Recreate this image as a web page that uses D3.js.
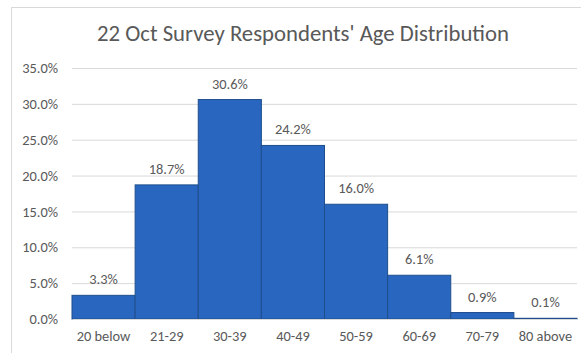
<!DOCTYPE html>
<html>
<head>
<meta charset="utf-8">
<script src="https://cdn.jsdelivr.net/npm/d3@7"></script>
<style>
  html, body { margin: 0; padding: 0; background: #fff; }
  svg { display: block; }
  text { font-family: Carlito, "Open Sans", "Noto Sans", sans-serif; fill: #595959; }
</style>
</head>
<body>
<svg id="chart" width="581" height="353"></svg>
<script>
// Age groups and share of respondents (percent)
const categories = ["20 below", "21-29", "30-39", "40-49", "50-59", "60-69", "70-79", "80 above"];
const shares = [3.3, 18.7, 30.6, 24.2, 16.0, 6.1, 0.9, 0.1];
const yTicks = [0, 5, 10, 15, 20, 25, 30, 35];
const titleText = "22 Oct Survey Respondents' Age Distribution";

const svg = d3.select("#chart");
const plot = { left: 72, right: 577, top: 68, bottom: 319 };
const labelSize = "14.4px";

// outer chart frame
svg.append("rect")
  .attr("x", 11.5).attr("y", 7.5)
  .attr("width", 620).attr("height", 400)
  .attr("fill", "#fff").attr("stroke", "#d9d9d9").attr("stroke-width", 1);

const x = d3.scaleBand().domain(categories).range([plot.left, plot.right]).padding(0);
const y = d3.scaleLinear().domain([0, 35]).range([plot.bottom, plot.top]);

// gridlines + y tick labels
const yAxis = d3.axisLeft(y).tickValues(yTicks).tickSize(-(plot.right - plot.left))
  .tickFormat(d => d.toFixed(1) + "%").tickPadding(14);
const gy = svg.append("g").attr("transform", `translate(${plot.left},0)`).call(yAxis);
gy.select(".domain").remove();
gy.selectAll(".tick line").attr("stroke", "#d9d9d9").attr("stroke-width", 1);
gy.selectAll(".tick text").style("font-size", labelSize).attr("fill", "#595959");

// bars
svg.append("g").selectAll("rect").data(shares).join("rect")
  .attr("x", (d, i) => x(categories[i]))
  .attr("y", d => y(d))
  .attr("width", x.bandwidth())
  .attr("height", d => y(0) - y(d))
  .attr("fill", "#2966c0")
  .attr("stroke", "#1f4e8c")
  .attr("stroke-width", 1);

// category axis
const xAxis = d3.axisBottom(x).tickSize(0).tickPadding(12);
const gx = svg.append("g").attr("transform", `translate(0,${plot.bottom})`).call(xAxis);
gx.select(".domain").attr("stroke", "#d9d9d9");
gx.selectAll(".tick text").style("font-size", labelSize).attr("fill", "#595959");

// value labels
svg.append("g").selectAll("text").data(shares).join("text")
  .attr("x", (d, i) => x(categories[i]) + x.bandwidth() / 2)
  .attr("y", d => y(d) - 11)
  .attr("text-anchor", "middle")
  .style("font-size", labelSize)
  .text(d => d.toFixed(1) + "%");

// title
const title = svg.append("text")
  .attr("x", 303).attr("y", 41)
  .attr("text-anchor", "middle")
  .style("font-size", "20px")
  .text(titleText);
const tw = title.node().getComputedTextLength();
title.style("font-size", (20 * 412 / tw).toFixed(2) + "px");
</script>
</body>
</html>
